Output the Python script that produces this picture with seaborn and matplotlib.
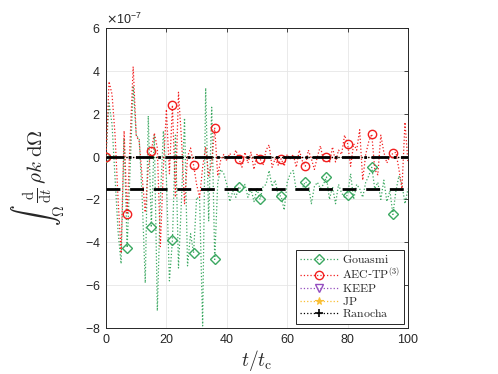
import numpy as np
import matplotlib
matplotlib.use("Agg")
import matplotlib.pyplot as plt
from matplotlib.ticker import ScalarFormatter, MultipleLocator
from matplotlib.lines import Line2D
import seaborn as sns

# ---------------- data (values in units of 1e-7) ----------------
t = np.arange(0, 101, 1.0)

gouasmi = [0.0, 2.5, 1.5, -1.0, -3.5, -5.0, 0.85, -4.25, -0.5, 3.3,
           1.0, 0.8, -2.0, -5.9, 1.9, -3.3, 1.0, -7.2, -2.0, 1.2,
           -1.0, -5.8, -3.9, 1.0, -5.2, -2.0, 1.8, -5.1, -3.6, -4.5,
           -1.9, -2.0, -7.9, 3.2, -3.0, 2.3, -4.8, -1.2, -0.6, -0.8,
           -1.3, -2.1, -1.6, -1.9, -1.4, -1.6, -1.3, -1.9, -1.5, -2.1,
           -1.5, -2.0, -1.4, -1.3, -0.65, -1.4, -1.1, -1.8, -1.85, -2.5,
           -1.2, -0.8, -0.65, -1.6, -1.5, -1.5, -1.17, -1.3, -2.2, -1.4,
           -1.2, -1.5, -1.3, -0.95, -2.0, -1.4, -2.2, -1.3, -1.7, -1.9,
           -1.8, -0.8, -2.0, -1.3, -1.5, -1.9, -1.2, -0.9, -0.5, -1.5,
           -1.2, -2.0, -1.1, -2.1, -1.6, -2.7, -1.6, -0.9, -1.3, -2.2,
           -1.5]

aec_tp3 = [0.0, 3.5, 2.9, 1.0, -2.0, -4.5, 1.2, -2.7, 0.8, 4.2,
           1.0, 0.7, -1.0, -2.6, -0.5, 0.25, 1.1, 0.4, -4.2, -0.5,
           2.2, -0.8, 2.4, -1.9, 3.0, 0.8, -2.2, 0.0, 0.4, -0.4,
           -1.3, -1.9, -0.5, 0.45, -0.9, -0.3, 1.35, -0.9, -0.15, 0.1,
           -0.2, 0.15, -0.1, 0.3, -0.1, -0.5, 0.2, -0.3, 0.2, -0.6,
           0.1, -0.1, -0.4, 0.3, 0.55, -0.5, -0.1, -0.4, -0.1, -0.45,
           0.1, -0.1, 0.1, -0.5, 0.3, -0.2, -0.45, 0.3, -0.1, -0.6,
           0.0, 0.5, -0.2, 0.0, -0.3, 0.45, -0.25, 0.3, 0.1, 1.0,
           0.6, -0.45, 0.6, 0.3, 1.25, -1.1, 0.1, 0.7, 1.05, -0.6,
           -0.85, 1.0, 0.2, -0.3, 0.0, 0.15, 0.2, -0.6, -1.5, 1.6,
           -0.3]

keep = [0.0] * len(t)
jp = [0.0] * len(t)
ranocha = [0.0] * len(t)

mean_aec = 0.0        # dash-dot reference level
mean_gouasmi = -1.53  # dashed reference level

marker_idx = [0, 7, 15, 22, 29, 36, 44, 51, 58, 66, 73, 80, 88, 95]
SCALE = 1e-7

# ---------------- style ----------------
sns.set_theme(style="white")
plt.rcParams["font.family"] = ["Liberation Sans", "DejaVu Sans"]
plt.rcParams["mathtext.fontset"] = "cm"

fig = plt.figure(figsize=(4.98, 3.74), dpi=100)
ax = fig.add_axes([106 / 498, 46 / 374, 302 / 498, 300 / 374])

green = (0.23, 0.66, 0.38)
red = (0.95, 0.12, 0.12)
purple = (0.58, 0.3, 0.75)
yellow = (0.98, 0.75, 0.2)
LW = 0.9

sns.lineplot(x=t, y=np.array(keep) * SCALE, ax=ax, color=purple,
             linestyle=":", linewidth=LW, zorder=2)
sns.lineplot(x=t, y=np.array(jp) * SCALE, ax=ax, color=yellow,
             linestyle=":", linewidth=LW, zorder=2)
sns.lineplot(x=t, y=np.array(ranocha) * SCALE, ax=ax, color="black",
             linestyle=":", linewidth=LW, zorder=2)

sns.lineplot(x=t, y=np.array(gouasmi) * SCALE, ax=ax, color=green,
             linestyle=":", linewidth=LW, marker="D", markersize=5,
             markerfacecolor="none", markeredgecolor=green,
             markeredgewidth=1.0, markevery=marker_idx, zorder=3)
sns.lineplot(x=t, y=np.array(aec_tp3) * SCALE, ax=ax, color=red,
             linestyle=":", linewidth=LW, marker="o", markersize=6,
             markerfacecolor="none", markeredgecolor=red,
             markeredgewidth=1.0, markevery=marker_idx, zorder=4)

ax.axhline(mean_aec * SCALE, color="black", linestyle="-.", linewidth=2.0, zorder=5)
ax.axhline(mean_gouasmi * SCALE, color="black", linestyle=(0, (5, 3.5)), linewidth=2.0, zorder=5)

ax.set_xlim(0, 100)
ax.set_ylim(-8e-7, 6e-7)
ax.xaxis.set_major_locator(MultipleLocator(20))
ax.yaxis.set_major_locator(MultipleLocator(2e-7))
fmt = ScalarFormatter(useMathText=True)
fmt.set_powerlimits((0, 0))
ax.yaxis.set_major_formatter(fmt)

ax.grid(True, color=(0.9, 0.9, 0.9), linewidth=0.6)
ax.set_axisbelow(True)
for s in ax.spines.values():
    s.set_color((0.15, 0.15, 0.15))
    s.set_linewidth(0.7)
ax.tick_params(axis="both", which="both", direction="in", length=3,
               width=0.6, colors=(0.15, 0.15, 0.15), labelsize=9,
               top=True, right=True, pad=4)
off = ax.yaxis.get_offset_text()
off.set_fontsize(9)
off.set_color((0.15, 0.15, 0.15))
off.set_math_fontfamily("dejavusans")

ax.set_xlabel(r"$t/t_{\mathrm{c}}$", fontsize=14, labelpad=2)
ax.set_ylabel(r"$\int_{\Omega}\,\frac{\mathrm{d}}{\mathrm{d}t}\,\rho k\;\mathrm{d}\Omega$",
              fontsize=15)
ax.yaxis.set_label_coords(-0.128, 0.5)

handles = [
    Line2D([], [], color=green, linestyle=":", linewidth=LW, marker="D",
           markersize=5, markerfacecolor="none", markeredgewidth=1.0),
    Line2D([], [], color=red, linestyle=":", linewidth=LW, marker="o",
           markersize=6, markerfacecolor="none", markeredgewidth=1.0),
    Line2D([], [], color=purple, linestyle=":", linewidth=LW, marker="v",
           markersize=6, markerfacecolor="none", markeredgewidth=1.0),
    Line2D([], [], color=yellow, linestyle=":", linewidth=LW, marker="*",
           markersize=5.5, markerfacecolor=yellow, markeredgewidth=0.8),
    Line2D([], [], color="black", linestyle=":", linewidth=LW, marker="+",
           markersize=6, markeredgewidth=1.2),
]
labels = [r"$\mathrm{Gouasmi}$", r"$\mathrm{AEC}$-$\mathrm{TP}^{(3)}$",
          r"$\mathrm{KEEP}$", r"$\mathrm{JP}$", r"$\mathrm{Ranocha}$"]
leg = ax.legend(handles, labels, loc="lower right", fontsize=8.5,
                handlelength=3.3, handletextpad=0.3, labelspacing=0.05,
                borderpad=0.3, borderaxespad=0.35, fancybox=False,
                framealpha=1.0, edgecolor=(0.15, 0.15, 0.15))
leg.get_frame().set_linewidth(0.7)
leg.set_zorder(10)

fig.savefig("out.png", dpi=100)
